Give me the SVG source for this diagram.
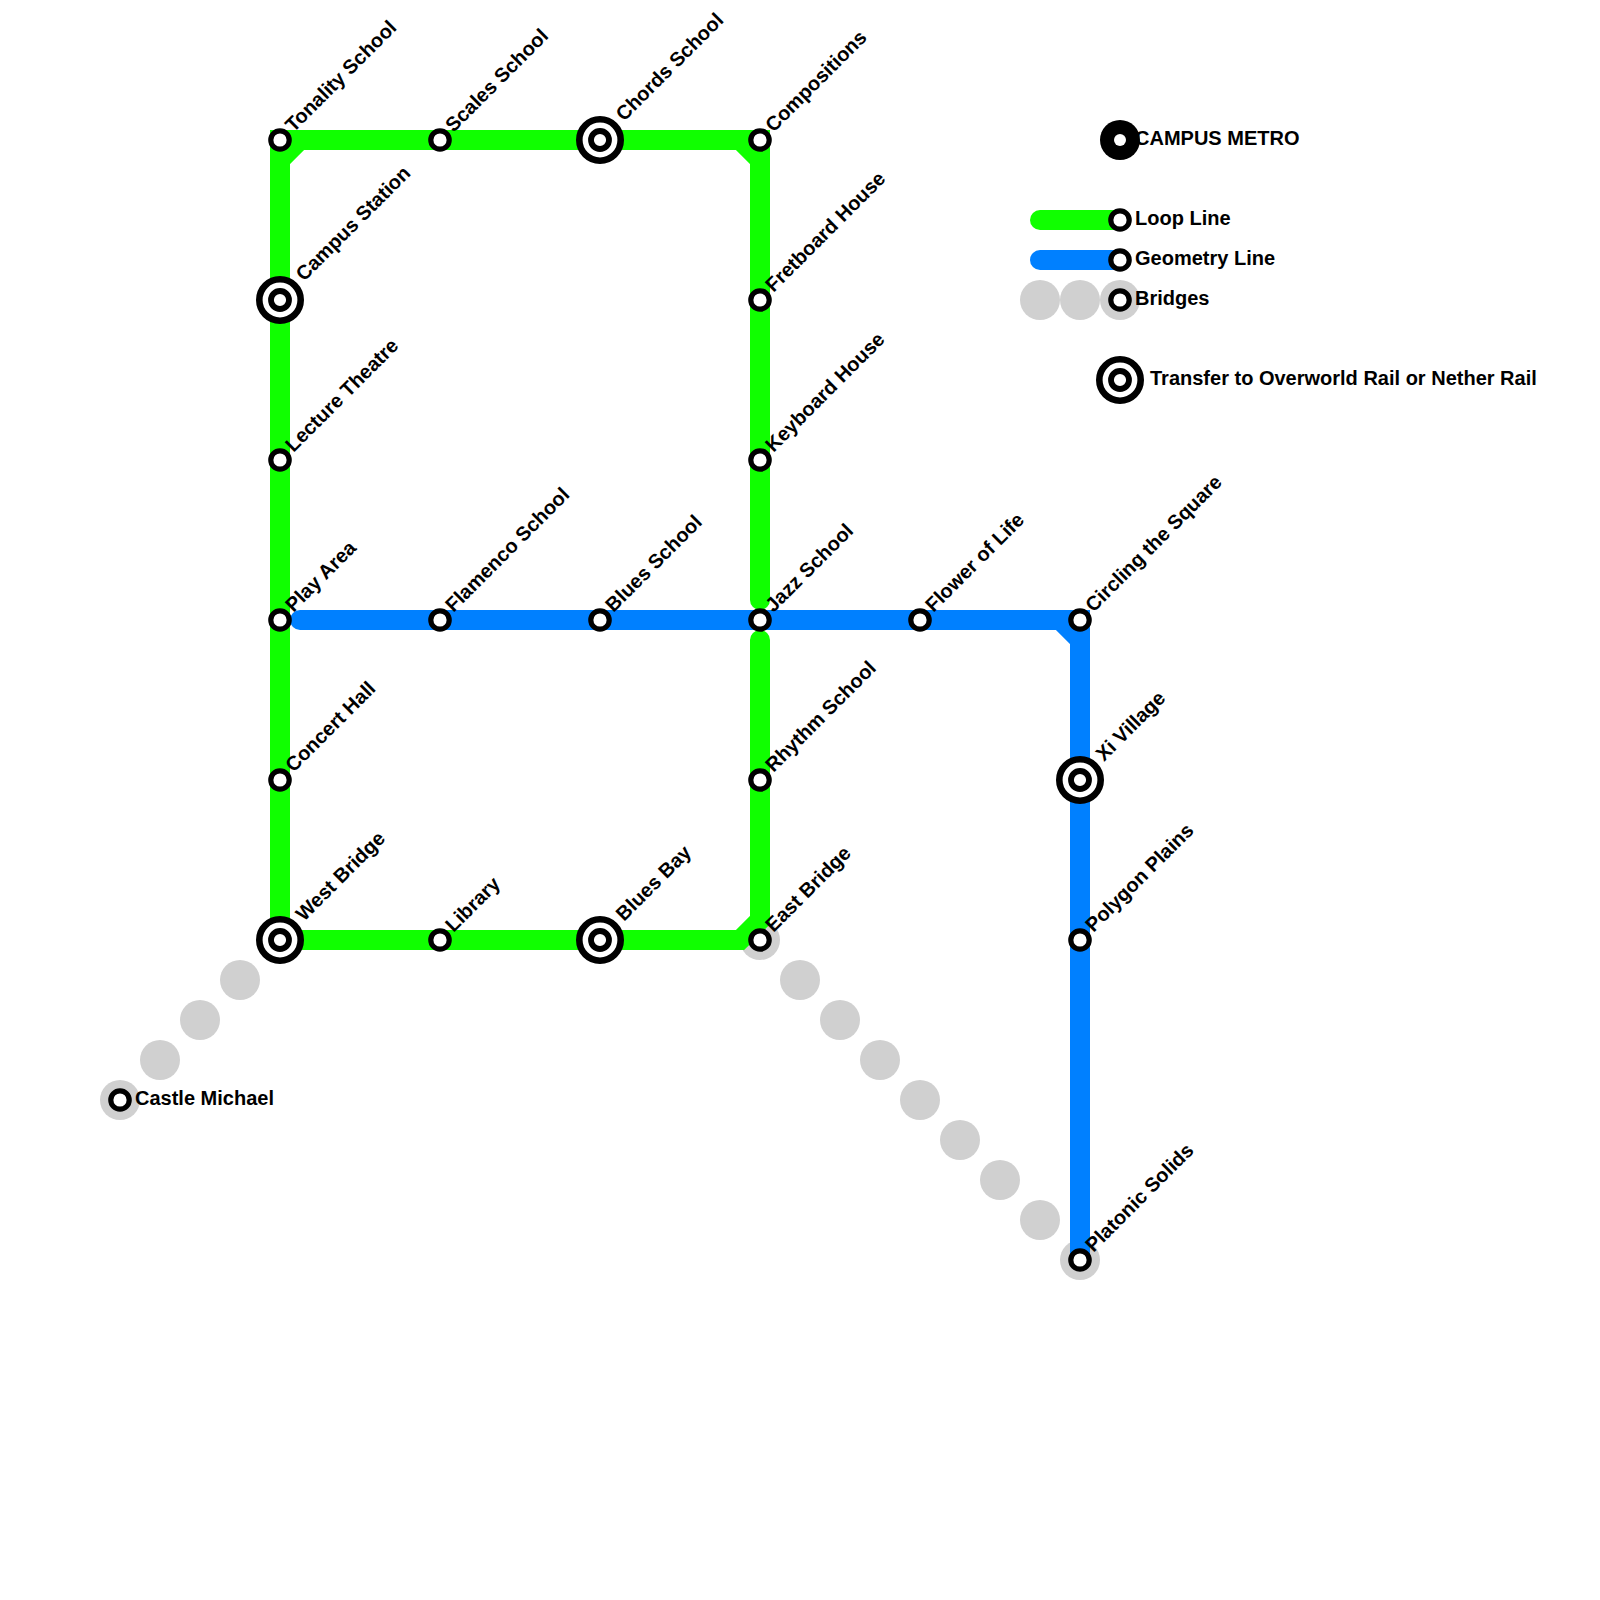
<svg xmlns="http://www.w3.org/2000/svg" width="1600" height="1600" viewBox="0 0 1600 1600">
<defs>
<style>
.bg{fill:#fff}
.line{fill:none;stroke-width:20;stroke-linecap:round;stroke-linejoin:miter}
.sq{fill:none;stroke-width:20;stroke-linecap:butt;stroke-linejoin:miter}
.loop{stroke:#10ff00}
.geo{stroke:#0080ff}
.bridge{fill:#d0d0d0}
.ring{fill:#fff;stroke:#000;stroke-width:5.2}
.tin{fill:#fff;stroke:#000;stroke-width:5.8}
.tring{fill:#fff;stroke:#000;stroke-width:6.6}
text{font-family:"Liberation Sans",Arial,sans-serif;font-weight:bold;font-size:20px;fill:#000}
</style>
<g id="st"><circle class="ring" r="9.2"/></g>
<g id="tr"><circle class="tring" r="20.7"/><circle class="tin" r="9"/></g>
</defs>
<rect class="bg" width="1600" height="1600"/>
<g id="bridges">
<circle class="bridge" cx="240" cy="980" r="20"/><circle class="bridge" cx="200" cy="1020" r="20"/><circle class="bridge" cx="160" cy="1060" r="20"/><circle class="bridge" cx="120" cy="1100" r="20"/>
<circle class="bridge" cx="760" cy="940" r="20"/><circle class="bridge" cx="800" cy="980" r="20"/><circle class="bridge" cx="840" cy="1020" r="20"/><circle class="bridge" cx="880" cy="1060" r="20"/><circle class="bridge" cx="920" cy="1100" r="20"/><circle class="bridge" cx="960" cy="1140" r="20"/><circle class="bridge" cx="1000" cy="1180" r="20"/><circle class="bridge" cx="1040" cy="1220" r="20"/><circle class="bridge" cx="1080" cy="1260" r="20"/>
<circle class="bridge" cx="1040" cy="300" r="20"/><circle class="bridge" cx="1080" cy="300" r="20"/><circle class="bridge" cx="1120" cy="300" r="20"/>
</g>
<g id="connectors">
<path class="line loop" d="M280 940V160L300 140H740L760 160V600"/>
<path class="line loop" d="M760 640V920L740 940H280"/>
<path class="sq loop" d="M280 160V140H300"/>
<path class="sq loop" d="M740 140H760V160"/>
<path class="line geo" d="M300 620H1060L1080 640V1260"/>
<path class="sq geo" d="M1060 620H1080V640"/>
<path class="line loop" d="M1040 220H1120"/>
<path class="line geo" d="M1040 260H1120"/>
</g>
<g id="n-tonality"><use href="#st" x="280" y="140"/><text transform="translate(293.5 133) rotate(-45)">Tonality School</text></g>
<g id="n-scales"><use href="#st" x="440" y="140"/><text transform="translate(453.5 133) rotate(-45)">Scales School</text></g>
<g id="n-chords"><use href="#tr" x="600" y="140"/><text transform="translate(624 122) rotate(-45)">Chords School</text></g>
<g id="n-compositions"><use href="#st" x="760" y="140"/><text transform="translate(773.5 133) rotate(-45)">Compositions</text></g>
<g id="n-campus"><use href="#tr" x="280" y="300"/><text transform="translate(304 282) rotate(-45)">Campus Station</text></g>
<g id="n-lecture"><use href="#st" x="280" y="460"/><text transform="translate(293.5 453) rotate(-45)">Lecture Theatre</text></g>
<g id="n-play"><use href="#st" x="280" y="620"/><text transform="translate(293.5 613) rotate(-45)">Play Area</text></g>
<g id="n-concert"><use href="#st" x="280" y="780"/><text transform="translate(293.5 773) rotate(-45)">Concert Hall</text></g>
<g id="n-west"><use href="#tr" x="280" y="940"/><text transform="translate(304 922) rotate(-45)">West Bridge</text></g>
<g id="n-library"><use href="#st" x="440" y="940"/><text transform="translate(453.5 933) rotate(-45)">Library</text></g>
<g id="n-bluesbay"><use href="#tr" x="600" y="940"/><text transform="translate(624 922) rotate(-45)">Blues Bay</text></g>
<g id="n-east"><use href="#st" x="760" y="940"/><text transform="translate(773.5 933) rotate(-45)">East Bridge</text></g>
<g id="n-fretboard"><use href="#st" x="760" y="300"/><text transform="translate(773.5 293) rotate(-45)">Fretboard House</text></g>
<g id="n-keyboard"><use href="#st" x="760" y="460"/><text transform="translate(773.5 453) rotate(-45)">Keyboard House</text></g>
<g id="n-jazz"><use href="#st" x="760" y="620"/><text transform="translate(773.5 613) rotate(-45)">Jazz School</text></g>
<g id="n-rhythm"><use href="#st" x="760" y="780"/><text transform="translate(773.5 773) rotate(-45)">Rhythm School</text></g>
<g id="n-flamenco"><use href="#st" x="440" y="620"/><text transform="translate(453.5 613) rotate(-45)">Flamenco School</text></g>
<g id="n-blues"><use href="#st" x="600" y="620"/><text transform="translate(613.5 613) rotate(-45)">Blues School</text></g>
<g id="n-flower"><use href="#st" x="920" y="620"/><text transform="translate(933.5 613) rotate(-45)">Flower of Life</text></g>
<g id="n-circling"><use href="#st" x="1080" y="620"/><text transform="translate(1093.5 613) rotate(-45)">Circling the Square</text></g>
<g id="n-xi"><use href="#tr" x="1080" y="780"/><text transform="translate(1104 762) rotate(-45)">Xi Village</text></g>
<g id="n-polygon"><use href="#st" x="1080" y="940"/><text transform="translate(1093.5 933) rotate(-45)">Polygon Plains</text></g>
<g id="n-platonic"><use href="#st" x="1080" y="1260"/><text transform="translate(1093.5 1253) rotate(-45)">Platonic Solids</text></g>
<g id="n-castle"><use href="#st" x="120" y="1100"/><text x="135" y="1105">Castle Michael</text></g>
<g id="legend">
<circle cx="1120" cy="140" r="20" fill="#000"/><circle cx="1120" cy="140" r="6" fill="#fff"/><text x="1135" y="145">CAMPUS METRO</text>
<use href="#st" x="1120" y="220"/><text x="1135" y="225">Loop Line</text>
<use href="#st" x="1120" y="260"/><text x="1135" y="265">Geometry Line</text>
<use href="#st" x="1120" y="300"/><text x="1135" y="305">Bridges</text>
<use href="#tr" x="1120" y="380"/><text x="1150" y="385">Transfer to Overworld Rail or Nether Rail</text>
</g>
</svg>
